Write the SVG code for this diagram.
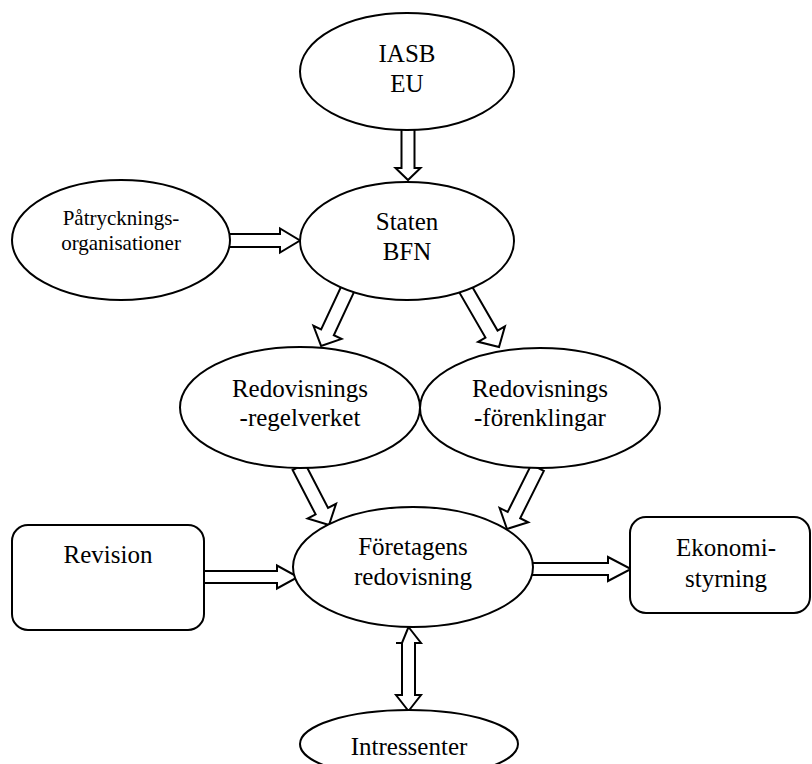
<svg xmlns="http://www.w3.org/2000/svg" width="812" height="764" viewBox="0 0 812 764">
<style>
.n{fill:#fff;stroke:#000;stroke-width:2}
.a{fill:#fff;stroke:#000;stroke-width:2;stroke-linejoin:miter}
.t{font-family:"Liberation Serif","Times New Roman",serif;font-size:25px;fill:#000;text-anchor:middle}
.s{font-size:21px}
</style>
<rect width="812" height="764" fill="#fff"/>
<g id="connectors">
<polygon class="a" transform="translate(408,122) rotate(90)" points="0,-6.5 46,-6.5 46,-12.5 58,0 46,12.5 46,6.5 0,6.5"/>
<polygon class="a" transform="translate(222,240.5) rotate(0)" points="0,-6.5 58,-6.5 58,-12 78,0 58,12 58,6.5 0,6.5"/>
<polygon class="a" transform="translate(349.5,285.2) rotate(115.07)" points="0,-7 52,-7 52,-15.5 67,0 52,15.5 52,7 0,7"/>
<polygon class="a" transform="translate(463.95,286.47) rotate(59.93)" points="0,-7 55,-7 55,-15.5 70,0 55,15.5 55,7 0,7"/>
<polygon class="a" transform="translate(298.8,466.8) rotate(62.57)" points="0,-7 50,-7 50,-16 65.6,0 50,16 50,7 0,7"/>
<polygon class="a" transform="translate(537.6,467.7) rotate(116.53)" points="0,-7 53,-7 53,-16 68.5,0 53,16 53,7 0,7"/>
<polygon class="a" transform="translate(198,577) rotate(0)" points="0,-6 79,-6 79,-11.5 100,0 79,11.5 79,6 0,6"/>
<polygon class="a" transform="translate(528,569) rotate(0)" points="0,-6 80,-6 80,-12 103,0 80,12 80,6 0,6"/>
<polygon class="a" points="408.5,627 421,643 415,643 415,695 421,695 408.5,711 396,695 402,695 402,643 396,643 402,643"/>
</g>
<g id="iasb">
<ellipse class="n" cx="407" cy="71.5" rx="107" ry="58.5"/>
<text class="t" x="407" y="62">IASB</text>
<text class="t" x="407" y="92">EU</text>
</g>
<g id="staten">
<ellipse class="n" cx="407" cy="241" rx="107" ry="59"/>
<text class="t" x="407" y="230">Staten</text>
<text class="t" x="407" y="260">BFN</text>
</g>
<g id="patrycknings">
<ellipse class="n" cx="121" cy="240" rx="109" ry="60"/>
<text class="t s" x="121" y="225">Påtrycknings-</text>
<text class="t s" x="121" y="250">organisationer</text>
</g>
<g id="regelverket">
<ellipse class="n" cx="300" cy="407.5" rx="120" ry="60.5"/>
<text class="t" x="300" y="397">Redovisnings</text>
<text class="t" x="300" y="426">-regelverket</text>
</g>
<g id="forenklingar">
<ellipse class="n" cx="540" cy="408" rx="120" ry="60"/>
<text class="t" x="540" y="397">Redovisnings</text>
<text class="t" x="540" y="426">-förenklingar</text>
</g>
<g id="foretagens">
<ellipse class="n" cx="413" cy="567" rx="120" ry="60"/>
<text class="t" x="413" y="555">Företagens</text>
<text class="t" x="413" y="585">redovisning</text>
</g>
<g id="revision">
<rect class="n" x="12" y="525" width="192" height="105" rx="16" ry="16"/>
<text class="t" x="108" y="563">Revision</text>
</g>
<g id="ekonomistyrning">
<rect class="n" x="630" y="517" width="180" height="96" rx="16" ry="16"/>
<text class="t" x="726" y="556">Ekonomi-</text>
<text class="t" x="726" y="587">styrning</text>
</g>
<g id="intressenter">
<ellipse class="n" cx="409" cy="744" rx="109" ry="34"/>
<text class="t" x="409" y="755">Intressenter</text>
</g>
</svg>
